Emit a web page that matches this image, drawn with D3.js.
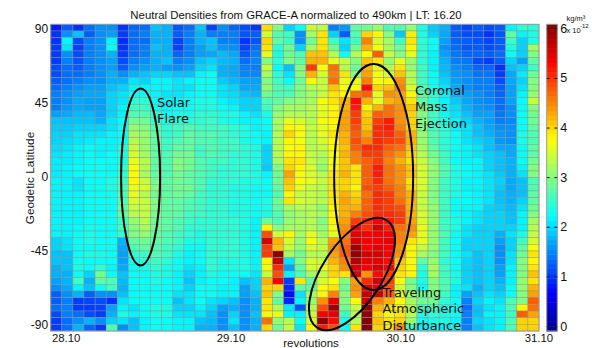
<!DOCTYPE html>
<html>
<head>
<meta charset="utf-8">
<script src="https://cdn.jsdelivr.net/npm/d3@7"></script>
<style>
  html, body { margin: 0; padding: 0; background: #fff; }
  text { font-family: "Liberation Sans", Arial, sans-serif; fill: #111; }
  .note { font-family: "DejaVu Sans", sans-serif; font-size: 13px; }
</style>
</head>
<body>
<svg id="chart" width="592" height="348"></svg>
<script>
// neutral density x 10^-12 kg/m3, one row per latitude bin from north to south,
// 44 revolutions per row
var densityRows = [
  [0.9,1.3,1.05,1.4,1.6,1.6,1.05,1.35,1.4,1.9,1.8,1.25,1.4,1.9, 1.15,1.6,1.35,1.2,1.05, 3.95,3.0,2.0,2.3,3.4,3.4,1.5,1.65,2.8,2.9, 3.1,2.7,2.7,3.1,2.4,1.95,1.8,1.3,1.15,1.3,1.2,1.3,2.2,2.5,2.5],
  [1.05,1.6,1.9,1.3,1.6,1.7,1.1,1.4,1.5,1.8,1.8,1.3,1.5,1.8, 1.5,1.5,1.5,1.25,1.3, 3.5,2.7,2.6,1.6,3.2,3.9,2.0,1.3,2.7,4.0, 3.8,3.0,1.95,3.85,2.4,2.0,1.75,1.3,1.2,1.2,1.05,1.25,2.8,2.2,2.4],
  [1.05,2.2,1.2,1.5,1.6,2.2,1.0,1.4,1.4,1.8,1.8,1.15,1.5,1.8, 1.9,1.5,1.5,1.05,1.25, 4.0,2.8,2.6,1.6,2.9,3.9,2.6,2.1,2.6,4.5, 3.5,3.2,2.6,3.9,2.5,2.3,1.7,1.35,1.3,1.25,1.15,1.3,2.6,2.0,2.4],
  [1.1,2.1,1.15,1.5,1.6,2.25,1.05,1.4,1.5,1.9,1.8,1.15,1.5,1.7, 1.9,1.65,1.6,1.15,1.4, 3.9,2.5,2.9,2.0,3.2,3.9,2.9,2.0,2.9,4.2, 3.7,3.2,2.9,3.8,2.5,2.3,1.6,1.4,1.25,1.3,1.2,1.3,2.4,2.0,3.2],
  [1.1,1.6,1.2,1.5,1.6,1.8,1.1,1.4,1.5,1.8,1.8,1.35,1.5,1.7, 1.75,1.85,1.75,1.25,1.5, 3.6,2.4,2.9,2.7,4.1,4.1,3.3,2.3,3.3,3.7, 4.7,3.4,3.0,3.6,2.5,2.2,1.7,1.45,1.35,1.35,1.3,1.4,2.3,2.0,3.0],
  [1.1,1.5,1.25,1.5,1.6,1.7,1.2,1.5,1.6,1.8,1.9,1.5,1.6,1.9, 2.0,1.85,1.8,1.4,1.55, 3.0,2.5,3.0,2.8,4.2,4.2,3.6,3.4,3.0,4.1, 3.9,3.1,3.6,3.1,2.5,2.2,1.8,1.5,1.45,1.2,1.1,1.3,2.0,1.7,2.8],
  [1.2,1.4,1.3,1.5,1.6,1.7,1.3,1.6,1.7,1.8,1.7,1.6,1.7,2.0, 2.1,1.8,1.75,1.5,1.5, 3.4,2.3,1.9,3.0,4.9,3.7,4.6,3.3,2.9,4.2, 3.6,3.3,3.9,3.1,2.6,2.2,1.85,1.6,1.5,1.35,1.35,1.05,1.9,2.0,2.6],
  [1.2,1.4,1.4,1.5,1.6,1.8,1.6,1.8,1.9,2.0,2.0,1.9,1.9,2.2, 2.3,1.8,1.75,1.55,1.55, 3.2,2.5,2.1,3.0,4.2,3.5,4.5,3.9,3.0,4.3, 3.7,3.5,4.1,3.3,2.6,2.3,1.9,1.65,1.6,1.45,1.45,1.1,1.75,2.15,2.9],
  [1.3,1.4,1.5,1.6,1.6,1.8,1.8,2.1,2.0,2.2,2.2,2.1,2.2,2.3, 2.3,1.95,1.85,1.7,1.7, 3.0,2.6,2.3,2.9,3.8,3.4,4.6,3.6,3.6,4.5, 3.7,3.8,4.4,3.3,2.6,2.3,2.0,1.7,1.6,1.5,1.5,1.2,1.75,2.0,3.0],
  [1.4,1.5,1.6,1.7,1.7,1.9,2.0,2.2,2.2,2.2,2.2,2.1,2.1,2.3, 2.3,2.1,2.0,1.75,1.75, 3.1,2.7,2.6,3.0,3.3,3.4,4.1,3.7,3.7,5.2, 4.0,4.1,4.5,3.5,2.7,2.4,2.1,1.75,1.6,1.5,1.5,1.3,1.7,2.1,3.0],
  [1.5,1.6,1.7,1.75,1.75,2.0,2.1,2.3,2.3,2.2,2.1,2.1,2.2,2.3, 2.3,2.1,2.05,1.9,1.85, 2.9,2.7,2.7,3.0,3.2,3.4,3.9,3.8,4.6,4.7, 3.6,4.4,4.3,3.8,2.8,2.5,2.2,1.8,1.7,1.6,1.5,1.35,1.7,2.2,3.1],
  [1.5,1.6,1.75,1.7,1.7,2.0,2.1,2.5,2.5,2.25,2.2,2.2,2.3,2.4, 2.4,2.2,2.1,2.0,2.0, 2.7,2.8,3.0,3.1,3.2,3.7,3.9,4.2,5.2,4.2, 3.6,4.2,4.3,3.9,2.8,2.5,2.2,1.95,1.75,1.6,1.55,1.4,1.7,2.25,3.4],
  [1.5,1.65,1.75,1.7,1.7,2.0,2.2,2.6,2.6,2.3,2.2,2.3,2.3,2.4, 2.4,2.3,2.2,2.0,2.0, 2.6,3.0,3.2,3.2,3.3,3.6,3.8,4.2,5.1,3.8, 4.2,4.6,4.4,4.1,3.0,2.6,2.2,2.05,1.8,1.65,1.6,1.4,1.6,2.3,3.0],
  [1.7,1.75,1.85,1.85,1.75,2.0,2.2,2.7,2.7,2.5,2.3,2.4,2.4,2.5, 2.5,2.4,2.4,2.2,2.1, 2.4,3.1,3.3,3.3,3.3,3.6,3.8,4.3,4.9,4.0, 4.7,4.6,4.4,4.0,3.0,2.6,2.3,2.1,1.9,1.7,1.7,1.45,1.6,2.3,2.9],
  [1.9,1.9,1.9,1.9,1.8,2.1,2.25,2.9,2.9,2.5,2.4,2.5,2.5,2.5, 2.6,2.4,2.3,2.2,2.2, 2.3,3.2,3.6,3.5,3.3,3.7,3.8,4.3,4.9,4.1, 4.9,5.1,4.4,4.0,3.0,2.6,2.4,2.2,2.0,1.8,1.7,1.5,1.55,2.3,2.9],
  [1.95,1.95,2.0,2.0,2.0,2.1,2.3,3.1,3.0,2.7,2.5,2.6,2.7,2.6, 2.6,2.6,2.5,2.4,2.2, 2.3,3.2,3.8,3.7,3.4,3.6,3.8,4.3,4.8,4.1, 5.0,5.1,4.5,4.0,3.0,2.6,2.5,2.2,2.1,1.9,1.75,1.6,1.6,2.3,2.8],
  [2.0,2.0,2.1,2.1,2.1,2.2,2.3,3.2,3.1,2.8,2.5,2.6,2.8,2.7, 2.7,2.6,2.5,2.4,2.3, 2.2,3.3,4.0,3.7,3.3,3.6,3.9,4.2,4.7,4.3, 5.0,5.0,4.7,4.2,3.1,2.7,2.5,2.3,2.1,1.9,1.8,1.65,1.6,2.4,2.7],
  [2.0,2.05,2.1,2.15,2.2,2.2,2.3,3.3,3.1,2.8,2.6,2.7,2.8,2.7, 2.7,2.6,2.6,2.4,2.3, 2.2,3.3,3.8,3.7,3.3,3.5,3.8,4.2,4.8,4.5, 5.0,4.9,4.8,4.2,3.1,2.7,2.5,2.3,2.1,2.0,1.9,1.65,1.6,2.4,2.7],
  [2.05,2.1,2.2,2.25,2.2,2.2,2.4,3.4,3.1,2.8,2.6,2.8,2.8,2.6, 2.7,2.6,2.6,2.5,2.4, 2.0,3.3,3.7,3.8,3.3,3.4,3.7,4.1,4.7,5.0, 5.0,4.7,4.6,4.1,3.2,2.8,2.5,2.3,2.2,2.1,1.9,1.75,1.75,2.3,2.8],
  [2.1,2.15,2.2,2.3,2.2,2.25,2.4,3.5,3.2,2.8,2.7,2.9,2.9,2.6, 2.7,2.6,2.5,2.5,2.4, 2.0,3.3,3.8,3.8,3.4,3.3,3.7,4.2,4.5,4.9, 4.9,4.6,4.4,4.0,3.3,2.9,2.6,2.3,2.2,2.1,2.0,1.9,1.75,2.3,2.8],
  [2.15,2.15,2.2,2.3,2.25,2.3,2.4,3.6,3.3,2.8,2.7,3.0,2.9,2.7, 2.6,2.6,2.5,2.5,2.4, 2.0,3.2,3.9,3.9,3.4,3.2,3.7,4.1,4.5,4.7, 4.9,4.5,4.2,3.9,3.4,3.0,2.6,2.3,2.2,2.2,2.0,1.9,1.8,2.3,2.9],
  [2.15,2.2,2.25,2.3,2.3,2.25,2.5,3.7,3.3,2.8,2.7,3.0,2.9,2.7, 2.6,2.5,2.5,2.5,2.4, 1.95,3.0,4.0,3.8,3.5,3.1,3.8,4.1,3.9,4.7, 5.1,4.6,4.4,4.1,3.5,3.1,2.7,2.4,2.25,2.2,2.0,1.9,1.8,2.2,3.0],
  [2.15,2.2,2.25,2.3,2.3,2.3,2.5,3.7,3.2,2.8,2.7,2.9,2.8,2.7, 2.6,2.5,2.5,2.5,2.4, 2.2,2.9,4.3,3.7,3.5,3.3,3.9,4.2,3.9,4.7, 5.1,4.6,4.4,4.1,3.5,3.1,2.7,2.4,2.3,2.2,2.1,1.95,1.8,2.1,3.0],
  [2.2,2.2,2.1,2.3,2.3,2.4,2.6,3.8,3.4,2.9,2.8,2.9,2.8,2.7, 2.5,2.5,2.5,2.4,2.4, 2.3,2.9,4.1,3.7,3.6,3.4,3.9,4.0,3.9,4.7, 5.0,4.6,4.4,3.9,3.5,3.0,2.6,2.4,2.2,2.2,2.1,2.0,1.75,1.9,2.7],
  [2.2,2.2,2.1,2.3,2.3,2.4,2.7,3.6,3.5,3.0,2.8,2.9,2.9,2.7, 2.5,2.5,2.4,2.4,2.3, 2.3,2.8,4.0,3.6,3.4,3.3,3.9,4.0,3.8,4.8, 4.9,4.7,4.5,4.0,3.5,3.0,2.6,2.4,2.2,2.2,2.1,1.95,1.75,1.9,2.7],
  [2.2,2.2,2.2,2.3,2.3,2.3,2.7,3.6,3.3,2.9,2.8,2.9,2.8,2.6, 2.5,2.5,2.4,2.4,2.3, 2.3,2.7,3.8,3.4,3.4,3.3,3.9,4.2,4.0,4.6, 5.0,4.9,4.5,4.2,3.4,3.0,2.6,2.4,2.25,2.2,2.1,1.9,1.8,1.9,2.8],
  [2.2,2.2,2.2,2.3,2.3,2.3,2.7,3.5,3.4,3.0,2.8,2.8,2.7,2.6, 2.5,2.5,2.4,2.4,2.3, 2.4,2.9,3.9,3.5,3.4,3.3,3.9,4.3,4.1,4.7, 5.0,4.9,4.6,4.2,3.4,3.0,2.6,2.3,2.25,2.2,2.1,1.9,1.8,2.0,2.8],
  [2.2,2.2,2.2,2.3,2.3,2.3,2.8,3.4,3.4,3.0,2.8,2.8,2.7,2.6, 2.5,2.5,2.4,2.4,2.3, 2.4,2.8,3.2,3.3,3.3,3.1,3.8,4.2,4.2,4.7, 5.0,4.9,4.8,4.2,3.4,3.1,2.6,2.3,2.2,2.2,2.0,1.95,1.85,2.1,2.9],
  [2.2,2.2,2.2,2.25,2.3,2.3,2.8,3.3,3.4,2.9,2.8,2.8,2.6,2.6, 2.5,2.5,2.4,2.4,2.3, 2.4,2.7,3.1,3.2,3.3,3.2,3.8,4.2,4.5,4.8, 5.0,5.0,4.9,4.2,3.5,3.1,2.6,2.3,2.2,2.1,2.0,2.0,1.9,2.2,3.0],
  [2.2,2.2,2.2,2.3,2.3,2.3,2.6,3.1,3.3,2.9,2.8,2.7,2.6,2.5, 2.5,2.5,2.5,2.4,2.2, 2.9,2.7,3.1,3.2,3.3,3.0,3.8,4.3,4.9,5.0, 5.3,5.1,4.9,4.3,3.5,3.1,2.6,2.4,2.2,2.1,2.0,2.0,1.9,2.2,3.2],
  [2.2,2.2,2.25,2.35,2.3,2.3,2.6,3.0,3.2,2.9,2.8,2.7,2.5,2.5, 2.5,2.5,2.5,2.4,2.2, 3.8,3.0,3.2,3.2,3.3,3.1,3.7,4.4,5.3,5.0, 5.5,5.1,4.6,4.4,3.6,3.1,2.6,2.4,2.1,2.0,2.0,2.0,2.0,2.2,3.3],
  [2.2,2.2,2.3,2.4,2.3,2.3,2.5,3.0,3.1,2.8,2.7,2.6,2.5,2.4, 2.5,2.5,2.5,2.4,2.2, 4.8,3.5,3.8,3.2,3.6,3.2,3.6,4.5,5.4,5.3, 5.3,5.3,4.5,4.3,3.6,3.1,2.7,2.3,2.1,2.0,2.0,1.8,2.1,2.4,3.4],
  [2.0,2.1,2.3,2.4,2.3,2.3,1.8,2.8,2.9,2.8,2.7,2.6,2.4,2.4, 2.5,2.5,2.5,2.4,2.2, 5.5,4.2,3.5,3.1,3.7,3.3,4.3,4.6,5.5,5.3, 5.3,5.4,4.5,3.9,3.6,3.1,2.6,2.3,2.0,2.0,2.0,1.7,2.0,2.6,3.5],
  [2.0,2.1,2.3,2.3,2.3,2.3,1.75,2.7,2.8,2.7,2.6,2.5,2.3,2.3, 2.5,2.5,2.5,2.4,2.2, 4.9,4.1,3.4,3.1,3.5,3.4,4.4,4.7,5.8,5.3, 5.4,5.3,4.4,3.8,3.4,3.1,2.6,2.3,2.0,2.0,2.0,1.6,2.0,2.8,3.7],
  [1.9,1.9,2.3,2.4,2.4,2.3,1.7,2.5,2.6,2.7,2.6,2.4,2.2,2.3, 2.5,2.5,2.5,2.4,2.2, 4.9,5.9,3.2,2.9,3.3,3.3,4.3,4.7,5.9,5.5, 5.5,5.3,4.4,3.8,3.2,3.0,2.6,2.3,2.1,1.9,2.0,1.6,2.1,2.9,3.9],
  [1.9,1.9,2.35,2.3,2.3,2.3,1.7,2.4,2.5,2.6,2.5,2.3,2.2,2.3, 2.5,2.4,2.4,2.4,2.2, 3.8,5.6,2.1,3.0,3.5,3.4,4.2,4.5,5.7,5.4, 5.4,5.2,4.1,3.7,2.8,3.1,2.5,2.3,2.0,1.9,2.0,1.6,2.1,3.0,3.8],
  [1.8,1.9,2.4,2.3,2.5,2.2,1.75,2.3,2.4,2.5,2.4,2.3,2.1,2.2, 2.5,2.4,2.4,2.4,2.2, 3.7,5.0,1.7,2.8,3.5,3.6,4.0,4.4,5.5,5.3, 5.5,5.3,4.0,3.8,2.5,3.2,2.6,2.3,2.0,1.9,2.0,1.7,2.2,3.0,3.9],
  [1.8,1.8,2.3,2.0,2.9,2.3,1.9,2.3,2.3,2.4,2.4,2.2,2.0,2.2, 2.4,2.3,2.3,2.3,2.1, 3.4,4.8,2.2,2.7,3.2,3.4,4.0,3.9,5.5,4.4, 5.2,4.9,3.9,3.8,2.4,3.2,2.6,2.4,2.0,1.9,2.0,1.7,2.2,3.0,4.1],
  [1.7,1.8,2.6,1.8,2.8,2.7,1.85,2.25,2.3,2.4,2.3,2.2,1.9,2.2, 2.3,2.3,2.2,1.9,2.0, 4.2,5.3,1.1,3.9,2.8,3.5,3.7,3.0,4.3,5.0, 5.5,4.9,3.7,2.9,2.4,3.0,2.7,2.4,2.0,1.9,2.0,1.8,2.2,3.1,3.9],
  [1.6,1.75,2.2,1.9,2.3,2.6,1.8,2.25,2.3,2.3,2.3,2.2,2.0,2.3, 2.3,2.2,2.2,1.7,2.0, 4.0,4.0,1.0,2.8,2.8,3.7,3.9,2.9,4.4,5.5, 5.4,4.8,3.5,3.0,2.3,3.0,2.7,2.2,2.1,1.8,2.0,1.9,2.3,3.1,4.2],
  [1.3,1.6,1.8,1.3,1.6,1.6,1.9,2.25,2.3,2.3,2.3,2.1,2.1,2.3, 2.3,2.2,2.2,1.7,1.9, 4.1,3.0,0.8,2.1,3.2,3.8,4.5,3.0,4.3,5.6, 5.6,4.7,3.6,3.1,2.9,3.0,2.6,2.2,1.7,1.9,2.1,2.0,2.3,3.0,4.3],
  [1.3,1.5,1.1,1.15,1.2,1.05,2.1,2.25,2.3,2.3,2.3,1.9,2.1,2.3, 2.1,2.0,1.9,1.6,1.8, 3.9,2.8,0.95,2.2,3.1,4.4,5.4,3.0,3.7,5.6, 4.5,4.2,3.7,3.2,2.9,2.9,2.5,2.3,1.5,2.0,2.2,2.1,2.7,3.0,4.7],
  [1.4,1.5,1.1,1.1,1.15,1.7,2.2,2.1,2.3,2.4,2.4,2.0,2.0,2.2, 2.0,1.7,1.8,1.6,1.8, 3.9,3.3,2.1,1.25,3.3,4.8,5.8,2.9,3.4,5.9, 4.2,3.9,3.8,3.3,2.6,2.7,2.4,2.3,1.4,1.9,2.1,2.2,2.7,3.8,4.6],
  [1.2,1.5,1.4,1.2,1.1,1.8,2.4,2.2,2.3,2.4,2.4,2.1,2.1,2.1, 1.9,1.6,2.0,1.6,1.9, 3.8,3.6,2.2,2.2,3.4,5.3,5.4,2.6,3.3,5.9, 4.0,3.8,3.9,3.3,2.4,2.5,2.4,2.3,1.5,1.9,2.2,2.2,2.6,4.7,4.3],
  [1.1,1.4,1.6,1.8,1.6,2.0,2.1,1.9,2.2,2.3,2.3,2.2,2.2,1.9, 1.85,1.6,2.1,1.6,1.8, 4.6,3.1,3.3,2.3,3.5,5.9,5.2,2.4,3.3,6.0, 4.1,3.9,4.0,3.1,2.3,2.4,2.4,2.2,1.5,2.0,2.1,2.2,2.7,4.0,4.0],
  [1.1,1.4,1.8,1.35,1.1,2.7,1.6,1.9,2.2,2.3,2.3,2.2,2.2,1.8, 1.8,1.6,1.9,1.6,1.8, 4.0,2.9,3.4,2.1,3.7,5.1,4.8,2.3,3.9,6.0, 4.0,3.9,4.4,2.6,2.2,2.3,2.2,2.3,1.5,1.9,2.1,2.2,2.7,4.0,4.0]
];

var latTicks = [90, 45, 0, -45, -90];
var dayTicks = [28.09, 29.08, 30.10, 30.93];
var dayLabels = ["28.10", "29.10", "30.10", "31.10"];
var colorTicks = [0, 1, 2, 3, 4, 5, 6];
var jetStops = [0, 0.75, 2.25, 3.75, 5.25, 6];
var jetColors = ["#00008f", "#0000ff", "#00ffff", "#ffff00", "#ff0000", "#800000"];

// marked events, centre in days and degrees, half axes in pixels
var eventNames = ["Solar Flare", "Coronal Mass Ejection", "Traveling Atmospheric Disturbance"];
var eventDays = [28.54, 29.94, 29.81];
var eventLats = [0, 0, -59];
var eventRx = [19.5, 39.5, 64];
var eventRy = [88.5, 113, 30];
var eventTilt = [0, 0, -57];

var MARGINS = { top: 24.3, right: 53, bottom: 17, left: 50.7 },
    WIDTH = 592,
    HEIGHT = 348,
    innerRight = WIDTH - MARGINS.right,
    innerBottom = HEIGHT - MARGINS.bottom;

var svg = d3.select("#chart");

var colX = d3.scaleBand().domain(d3.range(densityRows[0].length)).range([MARGINS.left, innerRight]);
var rowY = d3.scaleBand().domain(d3.range(densityRows.length)).range([MARGINS.top, innerBottom]);
var dayX = d3.scaleLinear().domain([28, 28 + densityRows[0].length / 15]).range([MARGINS.left, innerRight]);
var latY = d3.scaleLinear().domain([90, -90]).range([MARGINS.top + 4.7, innerBottom - 6]);
var jet = d3.scaleLinear().domain(jetStops).range(jetColors).clamp(true);

// cells
svg.append("g").selectAll("g")
    .data(densityRows)
    .join("g")
    .attr("transform", function(d, i) { return "translate(0," + rowY(i) + ")"; })
    .selectAll("rect")
    .data(function(d) { return d; })
    .join("rect")
    .attr("x", function(d, i) { return colX(i); })
    .attr("width", colX.bandwidth())
    .attr("height", rowY.bandwidth())
    .attr("fill", function(d) { return jet(d); })
    .attr("stroke", "#8c8c8c")
    .attr("stroke-opacity", 0.7)
    .attr("stroke-width", 0.6);

svg.append("rect")
    .attr("x", MARGINS.left).attr("y", MARGINS.top)
    .attr("width", innerRight - MARGINS.left).attr("height", innerBottom - MARGINS.top)
    .attr("fill", "none").attr("stroke", "#999").attr("stroke-width", 1);

// axes
var yAxis = d3.axisLeft(latY).tickValues(latTicks).tickSize(0).tickPadding(2.5).tickFormat(String);
var gy = svg.append("g").attr("transform", "translate(" + MARGINS.left + ",0)").call(yAxis);
gy.select(".domain").remove();
gy.selectAll("text").style("font-size", "12px").style("font-family", "Liberation Sans");

var xAxis = d3.axisBottom(dayX).tickValues(dayTicks).tickSize(0).tickPadding(3)
    .tickFormat(function(d, i) { return dayLabels[i]; });
var gx = svg.append("g").attr("transform", "translate(0," + innerBottom + ")").call(xAxis);
gx.select(".domain").remove();
gx.selectAll("text").style("font-size", "11.4px").style("font-family", "Liberation Sans");

svg.append("text").attr("x", 296).attr("y", 18.5).attr("text-anchor", "middle")
    .style("font-size", "11.4px").text("Neutral Densities from GRACE-A normalized to 490km | LT: 16.20");
svg.append("text").attr("x", 311).attr("y", 347).attr("text-anchor", "middle")
    .style("font-size", "11.5px").text("revolutions");
svg.append("text").attr("transform", "translate(34,178) rotate(-90)").attr("text-anchor", "middle")
    .style("font-size", "11.8px").text("Geodetic Latitude");

// event ellipses
svg.append("g").selectAll("ellipse")
    .data(eventNames)
    .join("ellipse")
    .attr("transform", function(d, i) {
      return "translate(" + dayX(eventDays[i]) + "," + latY(eventLats[i]) + ") rotate(" + eventTilt[i] + ")";
    })
    .attr("rx", function(d, i) { return eventRx[i]; })
    .attr("ry", function(d, i) { return eventRy[i]; })
    .attr("fill", "none")
    .attr("stroke", "#000")
    .attr("stroke-width", 2);

function note(x, y, lines) {
  svg.append("text").attr("class", "note").attr("x", x).attr("y", y)
      .selectAll("tspan").data(lines).join("tspan")
      .attr("x", x)
      .attr("dy", function(d, i) { return i ? 16.4 : 0; })
      .text(function(d) { return d; });
}
note(157, 106.7, ["Solar", "Flare"]);
note(415, 95, ["Coronal", "Mass", "Ejection"]);
note(382.5, 297, ["Traveling", "Atmospheric", "Disturbance"]);

// colour bar, 64 levels, tick labels sit slightly inside its ends
var barLeft = 546.7, barRight = 557.3;
var levels = d3.range(64);
var levelY = d3.scaleBand().domain(levels).range([innerBottom, MARGINS.top]);
var barY = d3.scaleLinear().domain([0, 6]).range([326, 28.3]);
svg.append("g").selectAll("rect")
    .data(levels)
    .join("rect")
    .attr("x", barLeft)
    .attr("y", function(d) { return levelY(d); })
    .attr("width", barRight - barLeft)
    .attr("height", levelY.bandwidth() + 0.5)
    .attr("fill", function(d) { return jet((d + 0.5) * 6 / 64); });
svg.append("rect")
    .attr("x", barLeft).attr("y", MARGINS.top)
    .attr("width", barRight - barLeft).attr("height", innerBottom - MARGINS.top)
    .attr("fill", "none").attr("stroke", "#999").attr("stroke-width", 1);

var barAxis = d3.axisRight(barY).tickValues(colorTicks).tickSize(-3).tickPadding(3).tickFormat(d3.format("d"));
var gb = svg.append("g").attr("transform", "translate(" + barRight + ",0)").call(barAxis);
gb.select(".domain").remove();
gb.selectAll("line").attr("stroke", "#222");
gb.selectAll("text").style("font-size", "12.5px").style("font-family", "Liberation Sans");
var barAxisLeft = d3.axisLeft(barY).tickValues(colorTicks).tickSize(-3).tickFormat("");
var gl = svg.append("g").attr("transform", "translate(" + barLeft + ",0)").call(barAxisLeft);
gl.select(".domain").remove();
gl.selectAll("line").attr("stroke", "#222");

svg.append("text").attr("x", 566.5).attr("y", 20.5).style("font-size", "7.5px").text("kg/m\u00b3");
svg.append("text").attr("x", 566.5).attr("y", 33).style("font-size", "7.5px").text("x 10");
svg.append("text").attr("x", 580).attr("y", 27.5).style("font-size", "6px").text("-12");
</script>
</body>
</html>
